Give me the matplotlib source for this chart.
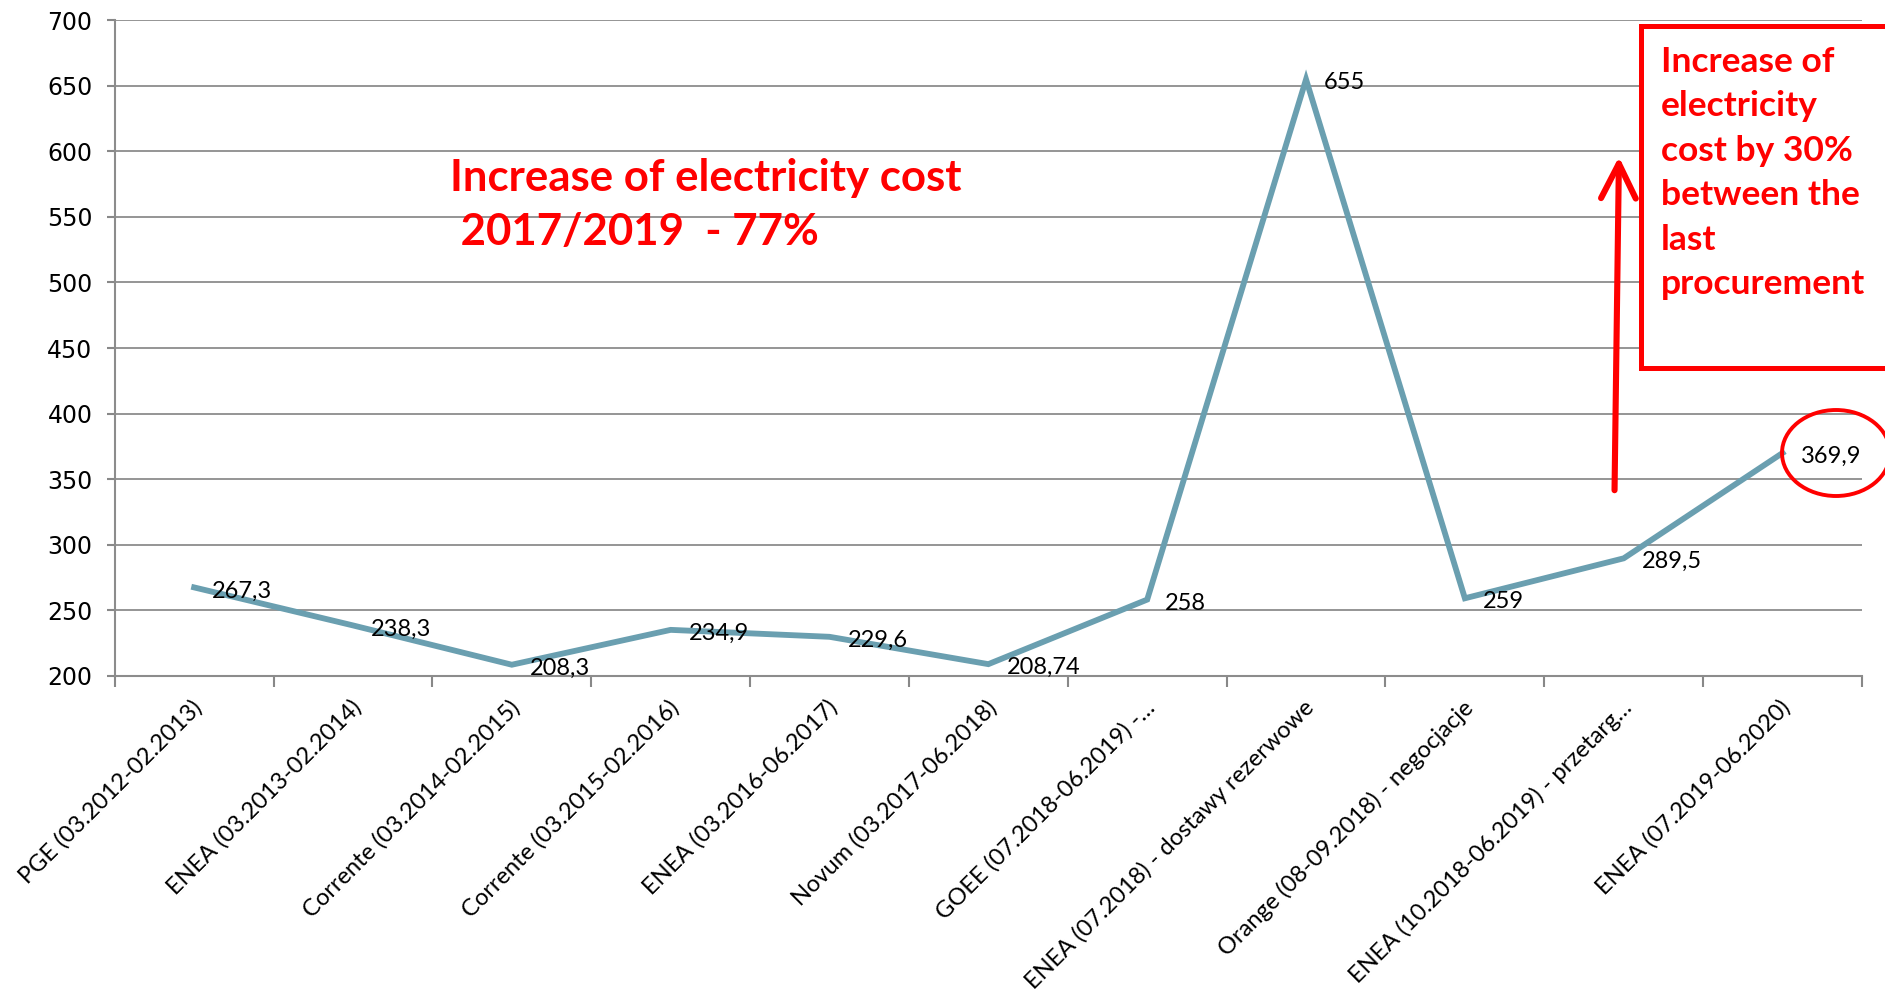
import matplotlib
matplotlib.use("Agg")
import matplotlib.pyplot as plt
import matplotlib.transforms as mtransforms
from matplotlib.patches import Ellipse, Rectangle, FancyArrowPatch

# ---- data ----
categories = [
    "PGE (03.2012-02.2013)",
    "ENEA (03.2013-02.2014)",
    "Corrente (03.2014-02.2015)",
    "Corrente (03.2015-02.2016)",
    "ENEA (03.2016-06.2017)",
    "Novum (03.2017-06.2018)",
    "GOEE (07.2018-06.2019) -\u2026",
    "ENEA (07.2018) - dostawy rezerwowe",
    "Orange (08-09.2018) - negocjacje",
    "ENEA (10.2018-06.2019) - przetarg\u2026",
    "ENEA (07.2019-06.2020)",
]
values = [267.3, 238.3, 208.3, 234.9, 229.6, 208.74, 258, 655, 259, 289.5, 369.9]
value_labels = ["267,3", "238,3", "208,3", "234,9", "229,6", "208,74",
                "258", "655", "259", "289,5", "369,9"]
y_ticks = [200, 250, 300, 350, 400, 450, 500, 550, 600, 650, 700]

FONT = ["Lato", "DejaVu Sans"]
plt.rcParams["font.family"] = FONT

W, H = 1885, 1000
fig = plt.figure(figsize=(W / 100, H / 100), dpi=100)
fig.patch.set_facecolor("white")

def fx(px):
    return px / W

def fy(py):
    return 1 - py / H

left, right, top, bottom = 114.7, 1862, 20.4, 675.6
ax = fig.add_axes([fx(left), fy(bottom), fx(right) - fx(left), fy(top) - fy(bottom)])

x = list(range(len(categories)))
ax.plot(x, values, color="#6a9fb0", lw=4.2, solid_joinstyle="miter", zorder=3)

for xi, v, lab in zip(x, values, value_labels):
    ax.annotate(lab, (xi, v), xytext=(13, -2.5), textcoords="offset points",
                ha="left", va="center", fontsize=17, color="black", zorder=4)

ax.set_xlim(-0.5, len(categories) - 0.5)
ax.set_ylim(200, 700)
ax.set_yticks(y_ticks)
ax.set_yticklabels([str(t) for t in y_ticks], fontsize=17, family="DejaVu Sans")

ax.set_xticks([i - 0.5 for i in range(len(categories) + 1)])
ax.set_xticklabels([])
ax.set_xticks(x, minor=True)
ax.set_xticklabels(categories, minor=True, rotation=45, ha="right",
                   rotation_mode="anchor", fontsize=17)
ax.tick_params(axis="x", which="major", length=8, width=1.5, color="#888888", direction="out")
ax.tick_params(axis="x", which="minor", length=0, pad=15)
ax.tick_params(axis="y", length=6, width=1.5, color="#888888", pad=10)

offset = mtransforms.ScaledTranslation(-3 / 100, 0, fig.dpi_scale_trans)
for lbl in ax.get_xticklabels(minor=True):
    lbl.set_transform(lbl.get_transform() + offset)

ax.grid(axis="y", color="#8c8c8c", lw=1.3)
ax.set_axisbelow(True)
for s in ["top", "right"]:
    ax.spines[s].set_visible(False)
for s in ["left", "bottom"]:
    ax.spines[s].set_color("#8c8c8c")
    ax.spines[s].set_linewidth(1.5)

# ---- annotations ----
fig.text(fx(450), fy(205), "Increase of electricity cost\n 2017/2019  - 77%",
         color="#ff0000", fontsize=31.5, fontweight="bold", ha="left", va="center",
         linespacing=1.45, family=FONT)

rect = Rectangle((fx(1641), fy(368)), fx(1900) - fx(1641), fy(26) - fy(368),
                 transform=fig.transFigure, facecolor="white", edgecolor="#ff0000",
                 lw=3.6, zorder=10, clip_on=False)
fig.patches.append(rect)

fig.text(fx(1661), fy(46), "Increase of\nelectricity\ncost by 30%\nbetween the\nlast\nprocurement",
         color="#ff0000", fontsize=25.5, fontweight="bold", ha="left", va="top",
         linespacing=1.48, zorder=11, family=FONT)

arrow = FancyArrowPatch((fx(1614.5), fy(493)), (fx(1619), fy(154)),
                        transform=fig.transFigure,
                        arrowstyle="->,head_length=1.0,head_width=0.5",
                        mutation_scale=25, color="#ff0000", lw=4.4, zorder=9)
fig.patches.append(arrow)

ell = Ellipse((fx(1836), fy(453)), fx(108), 86 / H, transform=fig.transFigure,
              facecolor="none", edgecolor="#ff0000", lw=2.8, zorder=9, clip_on=False)
fig.patches.append(ell)

fig.savefig("out.png", dpi=100)
